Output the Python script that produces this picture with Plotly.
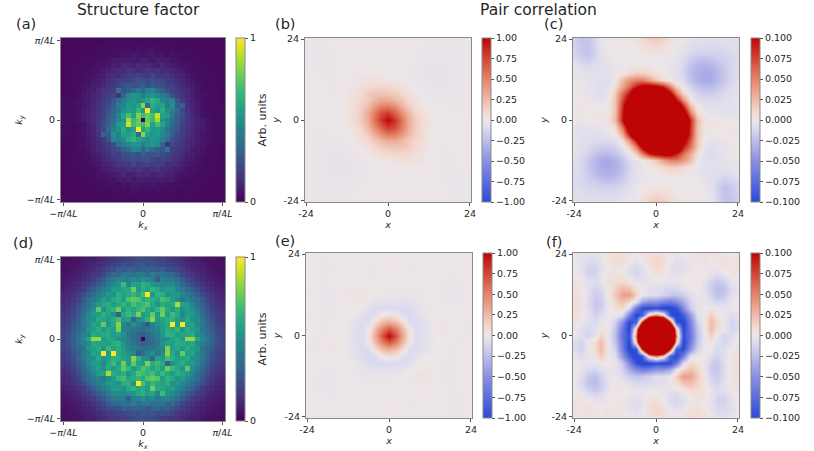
import plotly.graph_objects as go

FIG_W = 814
FIG_H = 451

# structure factor, percent of max, top row first, 33 x 33 cells
sf_top = [
    [2,2,2,2,2,2,2,2,2,3,3,3,3,3,3,3,3,3,3,3,3,3,3,2,3,2,2,2,2,2,2,2,2],
    [2,2,2,2,2,2,2,3,3,3,3,3,4,3,4,4,4,3,4,4,3,3,3,3,3,3,2,2,2,2,2,2,2],
    [2,2,2,2,2,2,3,3,3,3,4,4,4,5,4,5,4,5,5,4,4,4,4,3,3,3,3,2,2,2,2,2,2],
    [2,2,2,2,3,3,3,3,4,4,4,5,6,5,7,6,6,6,7,5,6,4,5,4,4,3,3,3,2,2,2,2,2],
    [2,2,2,3,3,3,3,4,4,5,7,7,7,8,8,7,9,8,6,9,7,7,5,5,4,4,3,3,3,2,2,2,2],
    [2,2,3,3,3,3,4,5,5,6,9,8,11,10,9,12,10,11,10,8,12,9,7,6,5,5,4,3,3,3,2,2,2],
    [2,2,3,3,3,4,5,5,7,8,10,12,11,15,14,11,13,16,13,15,11,12,10,8,7,5,4,4,3,3,3,2,2],
    [2,2,3,3,4,5,5,7,8,11,13,12,16,18,17,20,18,16,21,17,15,16,12,10,9,6,5,4,3,3,3,2,2],
    [2,3,3,3,4,5,7,8,10,12,15,18,20,19,22,25,24,22,25,22,21,17,15,13,10,8,6,4,4,3,3,2,2],
    [2,3,3,4,5,6,8,9,12,15,17,20,24,27,26,25,30,24,28,25,24,19,20,14,12,9,7,5,4,3,3,3,2],
    [2,3,3,4,5,7,8,11,14,16,18,38,26,30,34,42,32,44,46,34,30,24,20,17,13,11,8,6,4,4,3,3,2],
    [2,3,3,4,6,7,10,12,15,18,22,14,32,48,52,50,42,50,52,46,42,38,24,18,15,11,9,6,5,4,3,3,2],
    [3,3,4,5,6,8,10,13,16,20,26,36,44,50,54,48,52,58,66,60,48,44,46,26,17,12,9,7,5,4,3,3,2],
    [3,3,4,5,6,8,11,14,18,22,30,42,46,56,52,58,82,34,62,56,58,42,50,28,32,14,10,7,5,4,3,3,3],
    [3,3,4,5,7,9,11,15,19,26,32,38,50,56,54,66,56,100,58,52,62,50,44,34,22,16,10,7,5,4,3,3,3],
    [3,3,4,5,7,9,12,16,20,28,34,46,58,70,58,80,68,76,70,92,58,54,40,30,24,16,11,8,5,4,3,3,3],
    [3,3,4,5,7,9,12,16,22,28,36,46,52,86,68,76,0,76,68,86,52,46,36,28,22,16,12,9,7,5,4,3,3],
    [3,3,3,4,5,8,11,16,24,30,40,54,58,92,70,76,68,80,58,70,58,46,34,28,20,16,12,9,7,5,4,3,3],
    [3,3,3,4,5,7,10,16,22,34,44,50,62,52,58,100,56,66,54,56,50,38,32,26,19,15,11,9,7,5,4,3,3],
    [3,3,3,4,5,7,10,14,32,28,50,42,58,56,62,34,82,58,52,56,46,42,30,22,18,14,11,8,6,5,4,3,3],
    [2,3,3,4,5,7,9,12,17,26,46,44,48,60,66,58,52,48,54,50,44,36,26,20,16,13,10,8,6,5,4,3,3],
    [2,3,3,4,5,6,9,11,15,18,24,38,42,46,52,50,42,50,52,48,32,14,22,18,15,12,10,7,6,4,3,3,2],
    [2,3,3,4,4,6,8,11,13,17,20,24,30,34,46,44,32,42,34,30,26,38,18,16,14,11,8,7,5,4,3,3,2],
    [2,3,3,3,4,5,7,9,12,14,20,19,24,25,28,24,30,25,26,27,24,20,17,15,12,9,8,6,5,4,3,3,2],
    [2,2,3,3,4,4,6,8,10,13,15,17,21,22,25,22,24,25,22,19,20,18,15,12,10,8,7,5,4,3,3,3,2],
    [2,2,3,3,3,4,5,6,9,10,12,16,15,17,21,16,18,20,17,18,16,12,13,11,8,7,5,5,4,3,3,2,2],
    [2,2,3,3,3,4,4,5,7,8,10,12,11,15,13,16,13,11,14,15,11,12,10,8,7,5,5,4,3,3,3,2,2],
    [2,2,2,3,3,3,4,5,5,6,7,9,12,8,10,11,10,12,9,10,11,8,9,6,5,5,4,3,3,3,3,2,2],
    [2,2,2,2,3,3,3,4,4,5,5,7,7,9,6,8,9,7,8,8,7,7,7,5,4,4,3,3,3,3,2,2,2],
    [2,2,2,2,2,3,3,3,4,4,5,4,6,5,7,6,6,6,7,5,6,5,4,4,4,3,3,3,3,2,2,2,2],
    [2,2,2,2,2,2,3,3,3,3,4,4,4,4,5,5,4,5,4,5,4,4,4,3,3,3,3,3,2,2,2,2,2],
    [2,2,2,2,2,2,2,3,3,3,3,3,3,4,4,3,4,4,3,4,3,3,3,3,3,3,3,2,2,2,2,2,2],
    [2,2,2,2,2,2,2,2,3,2,3,3,3,3,3,3,3,3,3,3,3,3,3,3,2,3,2,2,2,2,2,2,2],
]

sf_bottom = [
    [4,4,5,5,6,8,8,10,12,14,15,17,18,20,22,24,24,24,22,20,20,17,16,14,12,10,8,8,6,5,5,4,4],
    [4,5,5,6,8,9,10,12,14,17,20,22,24,22,26,26,28,24,26,24,22,20,18,17,14,12,10,9,8,6,5,5,4],
    [5,5,6,7,9,10,12,15,18,22,24,30,28,32,30,28,30,32,30,28,30,24,24,22,18,15,12,10,9,7,6,5,5],
    [5,6,7,8,10,12,15,18,22,28,34,32,40,38,36,42,40,34,42,36,38,34,34,28,22,18,15,12,10,8,7,6,5],
    [6,7,8,10,12,15,18,24,28,36,40,46,44,42,48,44,50,46,44,28,44,42,40,36,28,24,18,15,12,10,8,7,6],
    [7,8,10,12,15,18,24,28,34,42,48,52,68,46,58,56,64,60,52,50,46,48,48,42,34,28,24,18,15,12,10,8,7],
    [8,10,11,14,18,24,30,36,42,46,56,54,58,60,78,54,62,58,66,60,52,56,56,46,42,36,30,24,18,14,11,10,8],
    [10,11,14,18,24,30,36,42,46,54,50,62,58,60,66,58,70,100,52,64,62,50,54,54,46,42,36,30,24,18,14,11,10],
    [11,12,16,20,28,36,40,46,56,50,60,64,56,72,76,72,60,66,62,58,70,66,56,48,40,46,40,36,28,20,16,12,11],
    [12,14,18,24,30,36,46,54,58,62,56,60,66,58,70,64,68,72,60,52,62,58,60,88,58,54,46,36,30,24,18,14,12],
    [14,16,20,26,34,42,50,74,52,60,66,78,56,64,58,66,72,60,56,66,76,60,54,62,50,56,50,42,34,26,20,16,14],
    [16,18,22,28,36,46,54,56,62,58,50,30,60,68,62,80,56,58,76,54,78,56,68,60,46,56,54,46,36,28,22,18,16],
    [16,20,24,32,40,48,50,60,58,56,62,70,54,58,34,48,52,64,82,54,58,62,64,56,52,60,50,48,40,32,24,20,16],
    [18,20,26,30,40,46,58,56,76,52,60,82,48,40,50,44,36,28,46,50,56,60,100,54,100,56,58,46,40,30,26,20,18],
    [20,22,28,34,38,52,56,62,54,60,56,80,46,44,40,38,36,40,44,46,54,62,58,66,52,62,56,52,38,34,28,22,20],
    [20,24,30,36,44,48,60,58,60,62,54,58,50,40,36,32,30,34,38,44,52,64,62,56,58,58,60,48,44,36,30,24,20],
    [20,24,30,40,46,58,84,84,54,60,58,50,48,42,36,32,0,32,36,42,48,50,58,60,54,84,84,58,46,40,30,24,20],
    [20,24,30,36,44,48,60,58,58,56,62,64,52,44,38,34,30,32,36,40,50,58,54,62,60,58,60,48,44,36,30,24,20],
    [20,22,28,34,38,52,56,62,52,66,58,62,54,46,44,40,36,38,40,44,46,80,56,60,54,62,56,52,38,34,28,22,20],
    [18,20,26,30,40,46,58,56,100,54,100,60,56,50,46,28,36,44,50,40,48,82,60,52,76,56,58,46,40,30,26,20,18],
    [16,20,24,32,40,48,50,60,52,56,64,62,58,54,82,64,52,48,34,58,54,70,62,56,58,60,50,48,40,32,24,20,16],
    [16,18,22,28,36,46,54,56,46,60,68,56,78,54,76,58,56,80,62,68,60,30,50,58,62,56,54,46,36,28,22,18,16],
    [14,16,20,26,34,42,50,56,50,62,54,60,76,66,56,60,72,66,58,64,56,78,66,60,52,74,50,42,34,26,20,16,14],
    [12,14,18,24,30,36,46,54,58,88,60,58,62,52,60,72,68,64,70,58,66,60,56,62,58,54,46,36,30,24,18,14,12],
    [11,12,16,20,28,36,40,46,40,48,56,66,70,58,62,66,60,72,76,72,56,64,60,50,56,46,40,36,28,20,16,12,11],
    [10,11,14,18,24,30,36,42,46,54,54,50,62,64,52,100,70,58,66,60,58,62,50,54,46,42,36,30,24,18,14,11,10],
    [8,10,11,14,18,24,30,36,42,46,56,56,52,60,66,58,62,54,78,60,58,54,56,46,42,36,30,24,18,14,11,10,8],
    [7,8,10,12,15,18,24,28,34,42,48,48,46,50,52,60,64,56,58,46,68,52,48,42,34,28,24,18,15,12,10,8,7],
    [6,7,8,10,12,15,18,24,28,36,40,42,44,28,44,46,50,44,48,42,44,46,40,36,28,24,18,15,12,10,8,7,6],
    [5,6,7,8,10,12,15,18,22,28,34,34,38,36,42,34,40,42,36,38,40,32,34,28,22,18,15,12,10,8,7,6,5],
    [5,5,6,7,9,10,12,15,18,22,24,24,30,28,30,32,30,28,30,32,28,30,24,22,18,15,12,10,9,7,6,5,5],
    [4,5,5,6,8,9,10,12,14,17,18,20,22,24,26,24,28,26,26,22,24,22,20,17,14,12,10,9,8,6,5,5,4],
    [4,4,5,5,6,8,8,10,12,14,16,17,20,20,22,24,24,24,22,20,18,17,15,14,12,10,8,8,6,5,5,4,4],
]

# pair correlation in units of 0.001, rows y = 24 down to -24, columns x = -24 to 24
pair_top = [
    [-15,-22,-22,-12,-3,0,0,0,2,5,10,16,18,14,6,0,-2,-4,-6,-6,-6,-6,-6,-6,-6],
    [-15,-20,-22,-13,-4,0,0,0,0,2,5,8,10,6,2,-2,-4,-8,-10,-10,-10,-10,-10,-8,-8],
    [-13,-20,-23,-15,-6,-2,0,0,0,0,2,3,3,2,0,-2,-6,-11,-14,-15,-14,-13,-12,-10,-9],
    [-10,-14,-17,-12,-6,-3,-1,0,0,0,0,0,0,-1,-2,-4,-10,-17,-22,-24,-22,-18,-15,-12,-9],
    [-4,-8,-10,-8,-6,-4,-2,-1,1,3,3,2,0,-1,-3,-5,-12,-22,-30,-32,-30,-25,-18,-12,-8],
    [-2,-4,-5,-6,-6,-5,-2,3,10,15,14,10,5,1,-2,-6,-14,-25,-32,-35,-34,-28,-20,-12,-8],
    [-1,-2,-4,-6,-8,-7,2,25,42,52,52,38,20,8,0,-5,-10,-22,-32,-36,-35,-28,-20,-12,-6],
    [0,-2,-4,-6,-9,-6,6,32,58,88,108,110,102,85,46,14,-3,-14,-23,-27,-26,-22,-15,-9,-5],
    [0,-1,-3,-5,-8,-3,18,56,92,165,190,195,175,150,105,50,12,-6,-14,-17,-17,-14,-11,-7,-4],
    [0,0,-1,-3,-4,0,20,72,115,170,260,330,320,270,180,100,45,6,-8,-10,-10,-10,-8,-6,-4],
    [2,2,1,0,0,2,22,82,150,260,410,530,560,470,300,180,95,30,2,-4,-6,-6,-6,-6,-4],
    [2,2,2,2,2,3,22,86,170,320,520,720,800,640,450,270,130,55,8,0,-3,-4,-5,-6,-4],
    [0,0,0,2,2,4,25,90,175,320,560,800,1000,800,560,320,175,90,25,4,2,2,0,0,0],
    [-4,-6,-5,-4,-3,0,8,55,130,270,450,640,800,720,520,320,170,86,22,3,2,2,2,2,2],
    [-4,-6,-6,-6,-6,-4,2,30,95,180,300,470,560,530,410,260,150,82,22,2,0,0,1,2,2],
    [-4,-6,-8,-10,-10,-10,-8,6,45,100,180,270,320,330,260,170,115,72,20,0,-4,-3,-1,0,0],
    [-4,-7,-11,-14,-17,-17,-14,-6,12,50,105,150,175,195,190,165,92,56,18,-3,-8,-5,-3,-1,0],
    [-5,-9,-15,-22,-26,-27,-23,-14,-3,14,46,85,102,110,108,88,58,32,6,-6,-9,-6,-4,-2,0],
    [-6,-12,-20,-28,-35,-36,-32,-22,-10,-5,0,8,20,38,52,52,42,25,2,-7,-8,-6,-4,-2,-1],
    [-8,-12,-20,-28,-34,-35,-32,-25,-14,-6,-2,1,5,10,14,15,10,3,-2,-5,-6,-6,-5,-4,-2],
    [-8,-12,-18,-25,-30,-32,-30,-22,-12,-5,-3,-1,0,2,3,3,1,-1,-2,-4,-6,-8,-10,-8,-4],
    [-9,-12,-15,-18,-22,-24,-22,-17,-10,-4,-2,-1,0,0,0,0,0,0,-1,-3,-6,-12,-17,-14,-10],
    [-9,-10,-12,-13,-14,-15,-14,-11,-6,-2,0,2,3,3,2,0,0,0,0,-2,-6,-15,-23,-20,-13],
    [-8,-8,-10,-10,-10,-10,-10,-8,-4,-2,2,6,10,8,5,2,0,0,0,0,-4,-13,-22,-20,-15],
    [-6,-6,-6,-6,-6,-6,-6,-4,-2,0,6,14,18,16,10,5,2,0,0,0,-3,-12,-22,-22,-15],
]

pair_bottom = [
    [0,-3,-6,-5,0,4,8,8,3,0,2,6,8,5,-2,-3,-1,2,3,4,3,2,2,1,2],
    [0,-6,-10,-10,-3,2,8,6,0,-4,0,8,12,8,0,-6,-4,0,3,4,0,2,5,4,2],
    [2,-6,-14,-14,-6,0,2,0,-8,-12,-8,2,10,6,-6,-9,-6,-2,1,0,-2,0,4,4,2],
    [2,-4,-14,-14,-4,2,4,2,-6,-12,-8,0,4,2,-3,-5,-3,0,2,0,-6,-8,-2,2,2],
    [3,0,-6,-8,-2,4,8,8,2,-4,-4,-3,-2,-1,-2,-2,0,2,2,-4,-14,-20,-14,-4,0],
    [4,2,-6,-14,-10,2,14,24,20,6,0,-6,-8,-10,-12,-10,-6,0,2,-6,-18,-26,-22,-10,-2],
    [6,4,-8,-18,-14,2,18,36,38,14,-2,-8,-8,-14,-20,-22,-18,-8,-2,-4,-14,-24,-20,-8,0],
    [8,4,-10,-20,-18,-2,12,22,10,-8,-40,-50,-50,-60,-65,-55,-35,-14,-4,-2,-6,-12,-10,-2,2],
    [8,4,-8,-20,-16,-2,6,10,-10,-65,-98,-102,-95,-108,-108,-95,-55,-18,-4,0,2,-2,-4,-2,2],
    [6,2,-6,-14,-8,0,-2,-8,-60,-105,-85,20,50,20,-90,-115,-85,-45,-8,0,16,4,-2,-8,-4],
    [4,0,-8,-10,-2,0,-15,-50,-100,-85,80,240,320,240,80,-90,-108,-60,-15,0,24,10,-2,-14,-8],
    [2,-6,-12,-8,4,0,-22,-65,-105,25,240,520,680,520,240,25,-105,-65,-22,0,24,8,2,-14,-8],
    [0,-8,-14,-4,14,-4,-25,-70,-95,50,320,680,1000,680,320,50,-95,-70,-25,-4,14,-4,-14,-8,0],
    [-8,-14,2,8,24,0,-22,-65,-105,25,240,520,680,520,240,25,-105,-65,-22,0,4,-8,-12,-6,2],
    [-8,-14,-2,10,24,0,-15,-60,-108,-90,80,240,320,240,80,-85,-100,-50,-15,0,-2,-10,-8,0,4],
    [-4,-8,-2,4,16,0,-8,-45,-85,-115,-90,20,50,20,-85,-105,-60,-8,-2,0,-8,-14,-6,2,6],
    [2,-2,-4,-2,2,0,-4,-18,-55,-95,-108,-108,-95,-102,-98,-65,-10,10,6,-2,-16,-20,-8,4,8],
    [2,-2,-10,-12,-6,-2,-4,-14,-35,-55,-65,-60,-50,-50,-40,-8,10,22,12,-2,-18,-20,-10,4,8],
    [0,-8,-20,-24,-14,-4,-2,-8,-18,-22,-20,-14,-8,-8,-2,14,38,36,18,2,-14,-18,-8,4,6],
    [-2,-10,-22,-26,-18,-6,2,0,-6,-10,-12,-10,-8,-6,0,6,20,24,14,2,-10,-14,-6,2,4],
    [0,-4,-14,-20,-14,-4,2,2,0,-2,-2,-1,-2,-3,-4,-4,2,8,8,4,-2,-8,-6,0,3],
    [2,2,-2,-8,-6,0,2,0,-3,-5,-3,2,4,0,-8,-12,-6,2,4,2,-4,-14,-14,-4,2],
    [2,4,4,0,-2,0,1,-2,-6,-9,-6,6,10,2,-8,-12,-8,0,2,0,-6,-14,-14,-6,2],
    [2,4,5,2,0,4,3,0,-4,-6,0,8,12,8,0,-4,0,6,8,2,-3,-10,-10,-6,0],
    [2,1,2,2,3,4,3,2,-1,-3,-2,5,8,6,2,0,3,8,8,4,0,-5,-6,-3,0],
]

k_cells = list(range(-16, 17))
r_cells = list(range(-24, 25, 2))

k_ticks = [-16, 0, 16]
k_labels = ["−<i>π</i>/4<i>L</i>", "0", "<i>π</i>/4<i>L</i>"]
r_ticks = [-24, 0, 24]
r_labels = ["-24", "0", "24"]

sf_cbar_ticks = [0, 1]
sf_cbar_labels = ["0", "1"]
wide_cbar_ticks = [-1, -0.75, -0.5, -0.25, 0, 0.25, 0.5, 0.75, 1]
wide_cbar_labels = ["−1.00", "−0.75", "−0.50", "−0.25", "0.00", "0.25", "0.50", "0.75", "1.00"]
narrow_cbar_ticks = [-0.1, -0.075, -0.05, -0.025, 0, 0.025, 0.05, 0.075, 0.1]
narrow_cbar_labels = ["−0.100", "−0.075", "−0.050", "−0.025", "0.000", "0.025", "0.050", "0.075", "0.100"]

FONT = "DejaVu Sans"
TEXT = "#262626"
SPINE = "#8a8a8a"

coolwarm = [
    [0.0, "#2a4bd7"],
    [0.25, "#8a8fe3"],
    [0.45, "#dcdaee"],
    [0.5, "#ece6e8"],
    [0.55, "#f3d9d0"],
    [0.75, "#e58468"],
    [1.0, "#bd0505"],
]


def hfrac(px):
    return px / FIG_W


def vfrac(px):
    return 1 - px / FIG_H


sf_z = [[[v / 100 for v in row] for row in grid] for grid in (sf_top, sf_bottom)]
pair_z = [[[v / 1000 for v in row] for row in grid] for grid in (pair_top, pair_bottom)]

# left, right, top, bottom of each plot area and left of its colorbar, in pixels
panels = [
    dict(box=(61, 225, 38, 202), cbar=236, z=sf_z[0], kind="sf"),
    dict(box=(305, 471, 38, 202), cbar=482, z=pair_z[0], kind="wide"),
    dict(box=(573, 739, 38, 202), cbar=750.5, z=pair_z[0], kind="narrow"),
    dict(box=(61, 225, 257, 421), cbar=236, z=sf_z[1], kind="sf"),
    dict(box=(306, 472, 253, 418), cbar=483, z=pair_z[1], kind="wide"),
    dict(box=(573, 739, 253, 418), cbar=750.5, z=pair_z[1], kind="narrow"),
]

fig = go.Figure()
layout_axes = {}

for n, p in enumerate(panels, start=1):
    left, right, top, bottom = p["box"]
    sf = p["kind"] == "sf"
    if sf:
        zmin, zmax, scale = 0, 1, "Viridis"
        cticks, clabels = sf_cbar_ticks, sf_cbar_labels
    elif p["kind"] == "wide":
        zmin, zmax, scale = -1, 1, coolwarm
        cticks, clabels = wide_cbar_ticks, wide_cbar_labels
    else:
        zmin, zmax, scale = -0.1, 0.1, coolwarm
        cticks, clabels = narrow_cbar_ticks, narrow_cbar_labels

    cbar = dict(
        x=hfrac(p["cbar"]), xanchor="left", xpad=0,
        y=vfrac(bottom), yanchor="bottom", ypad=0,
        len=(bottom - top) / FIG_H, lenmode="fraction",
        thickness=9, thicknessmode="pixels",
        outlinecolor=SPINE, outlinewidth=1,
        ticks="outside", ticklen=3, tickwidth=1, tickcolor="#555555",
        tickmode="array", tickvals=cticks, ticktext=clabels,
        tickfont=dict(family=FONT, size=9.5, color=TEXT),
    )
    if sf:
        cbar["title"] = dict(text="Arb. units", side="right",
                             font=dict(family=FONT, size=11, color=TEXT))

    fig.add_trace(go.Heatmap(
        z=p["z"],
        x=k_cells if sf else r_cells,
        y=list(reversed(k_cells)) if sf else list(reversed(r_cells)),
        zmin=zmin, zmax=zmax, colorscale=scale,
        zsmooth=False if sf else "best",
        colorbar=cbar, xaxis=f"x{n}", yaxis=f"y{n}",
        hoverinfo="skip",
    ))

    span = 16.5 if sf else 24.3
    axis_style = dict(
        range=[-span, span], showgrid=False, zeroline=False,
        showline=True, linecolor=SPINE, linewidth=1, mirror=True,
        ticks="outside", ticklen=3, tickwidth=1, tickcolor="#555555",
        tickmode="array", tickvals=k_ticks if sf else r_ticks,
        ticktext=k_labels if sf else r_labels,
        tickfont=dict(family=FONT, size=9.5, color=TEXT),
    )
    xname = "<i>k</i><sub><i>x</i></sub>" if sf else "<i>x</i>"
    yname = "<i>k</i><sub><i>y</i></sub>" if sf else "<i>y</i>"
    suffix = "" if n == 1 else str(n)
    layout_axes["xaxis" + suffix] = dict(
        axis_style, domain=[hfrac(left), hfrac(right)], anchor=f"y{n}",
        title=dict(text=xname, standoff=2, font=dict(family=FONT, size=9.5, color=TEXT)),
    )
    layout_axes["yaxis" + suffix] = dict(
        axis_style, domain=[vfrac(bottom), vfrac(top)], anchor=f"x{n}",
        title=dict(text=yname, standoff=2, font=dict(family=FONT, size=9.5, color=TEXT)),
    )

fig.update_layout(
    width=FIG_W, height=FIG_H,
    margin=dict(l=0, r=0, t=0, b=0, autoexpand=False),
    paper_bgcolor="white", plot_bgcolor="white",
    font=dict(family=FONT, color=TEXT),
    showlegend=False,
    **layout_axes,
)

# headings and panel letters
headings = [("Structure factor", 138, 10), ("Pair correlation", 538.5, 10)]
letters = [("(a)", 26, 24), ("(b)", 285.5, 24), ("(c)", 553, 24),
           ("(d)", 23.5, 243), ("(e)", 285, 241), ("(f)", 554, 241.5)]
for text, px, py in headings:
    fig.add_annotation(text=text, xref="paper", yref="paper", x=hfrac(px), y=vfrac(py),
                       xanchor="center", yanchor="middle", showarrow=False,
                       font=dict(family=FONT, size=15.5, color=TEXT))
for text, px, py in letters:
    fig.add_annotation(text=text, xref="paper", yref="paper", x=hfrac(px), y=vfrac(py),
                       xanchor="center", yanchor="middle", showarrow=False,
                       font=dict(family=FONT, size=14.5, color=TEXT))

# the page adds its own 8px body margin, which would push the figure off the window
fig.write_html("out.html", config={"displayModeBar": False},
               post_script="document.body.style.margin = '0';")
